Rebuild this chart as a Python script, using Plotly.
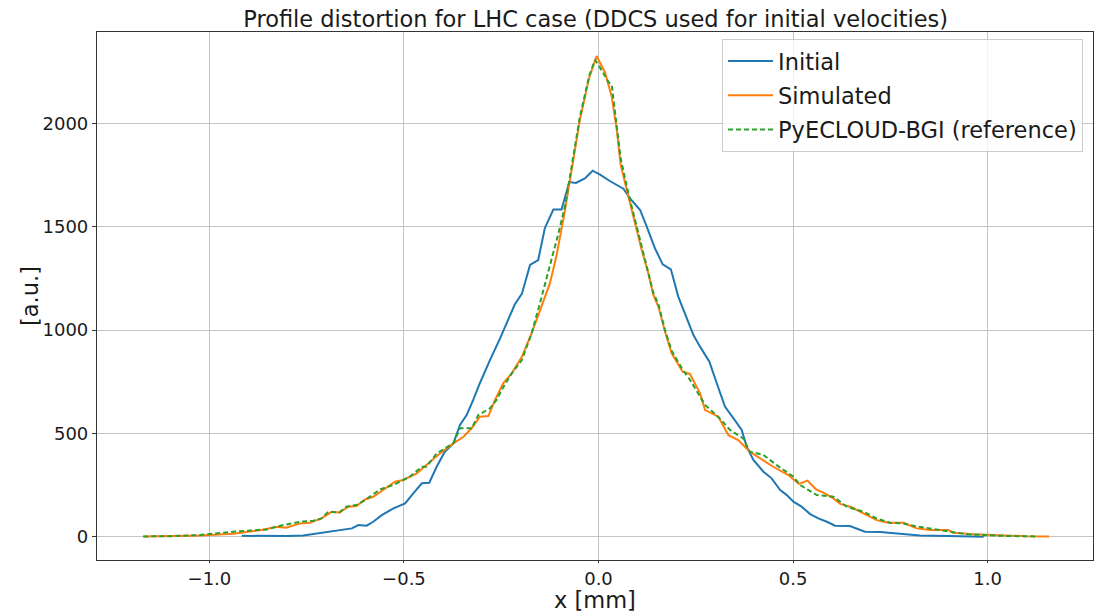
import plotly.graph_objects as go

# ---- data ----
initial_x = [-0.917, -0.85, -0.80, -0.759, -0.716, -0.68, -0.656, -0.634, -0.617, -0.596, -0.579, -0.557,
             -0.527, -0.497, -0.476, -0.454, -0.435, -0.416, -0.395, -0.373, -0.356, -0.339, -0.322,
             -0.305, -0.279, -0.253, -0.215, -0.197, -0.176, -0.155, -0.138, -0.116, -0.095, -0.075,
             -0.058, -0.035, -0.015, 0.004, 0.030, 0.064, 0.081, 0.107, 0.124, 0.145, 0.165, 0.186,
             0.205, 0.244, 0.261, 0.285, 0.304, 0.325, 0.347, 0.368, 0.381, 0.398, 0.424, 0.445, 0.467,
             0.484, 0.501, 0.522, 0.544, 0.565, 0.587, 0.608, 0.646, 0.685, 0.724, 0.775, 0.826, 0.90,
             0.95, 0.99]
initial_y = [5, 3, 4, 6, 18, 25, 33, 41, 57, 54, 73, 105,
             138, 162, 210, 259, 262, 339, 412, 452, 541, 589, 662,
             743, 855, 960, 1125, 1175, 1315, 1339, 1493, 1583, 1583, 1716,
             1712, 1734, 1771, 1752, 1720, 1684, 1637, 1581, 1500, 1396, 1318, 1294,
             1162, 976, 920, 847, 743, 630, 573, 517, 436, 372, 315, 283, 226,
             202, 170, 146, 110, 89, 73, 54, 52, 25, 23, 14, 7, 4,
             2, 1]

sim_x = [-1.17, -1.10, -1.025, -0.939, -0.866, -0.827, -0.803, -0.767, -0.742, -0.712, -0.686, -0.666,
         -0.643, -0.622, -0.600, -0.579, -0.549, -0.523, -0.502, -0.467, -0.437, -0.407, -0.373,
         -0.347, -0.326, -0.305, -0.283, -0.266, -0.245, -0.223, -0.197, -0.172, -0.150, -0.125,
         -0.108, -0.088, -0.069, -0.048, -0.024, -0.005, 0.017, 0.034, 0.047, 0.057, 0.077, 0.094,
         0.111, 0.128, 0.141, 0.154, 0.171, 0.188, 0.216, 0.235, 0.261, 0.274, 0.308, 0.334, 0.359,
         0.389, 0.415, 0.449, 0.488, 0.515, 0.537, 0.559, 0.578, 0.604, 0.621, 0.651, 0.681, 0.715,
         0.745, 0.784, 0.818, 0.852, 0.899, 0.912, 0.964, 1.0, 1.05, 1.10, 1.158]
sim_y = [2, 3, 7, 15, 33, 49, 44, 65, 68, 89, 121, 118,
         146, 149, 181, 194, 235, 267, 275, 307, 356, 404, 452,
         484, 525, 581, 584, 662, 743, 791, 871, 984, 1097, 1226,
         1360, 1560, 1775, 2016, 2220, 2326, 2245, 2129, 1968, 1799, 1645, 1517,
         1388, 1275, 1170, 1113, 992, 888, 799, 788, 694, 613, 581, 492, 468,
         412, 380, 339, 299, 256, 272, 230, 214, 186, 159, 143, 114, 81,
         68, 68, 41, 33, 33, 20, 12, 9, 5, 3, 2]

ref_x = [-1.17, -1.10, -1.025, -0.939, -0.853, -0.81, -0.767, -0.733, -0.712, -0.695, -0.666, -0.648,
         -0.622, -0.600, -0.561, -0.527, -0.485, -0.454, -0.442, -0.416, -0.373, -0.356, -0.326,
         -0.309, -0.279, -0.262, -0.249, -0.223, -0.197, -0.172, -0.146, -0.125, -0.103, -0.086,
         -0.069, -0.048, -0.024, -0.009, 0.0, 0.025, 0.034, 0.047, 0.057, 0.077, 0.094, 0.111,
         0.128, 0.141, 0.154, 0.171, 0.188, 0.216, 0.235, 0.257, 0.274, 0.312, 0.338, 0.372, 0.389,
         0.424, 0.458, 0.501, 0.518, 0.561, 0.604, 0.638, 0.681, 0.715, 0.749, 0.784, 0.818, 0.852,
         0.899, 0.95, 1.0, 1.05, 1.13]
ref_y = [2, 3, 9, 25, 36, 57, 73, 78, 89, 121, 118, 146,
         154, 178, 230, 251, 291, 339, 339, 404, 452, 525, 525,
         589, 622, 662, 710, 791, 855, 984, 1162, 1307, 1468, 1600,
         1790, 2030, 2230, 2307, 2282, 2202, 2186, 1990, 1830, 1660, 1530, 1400,
         1285, 1180, 1125, 1000, 900, 810, 760, 690, 638, 573, 517, 476, 412,
         396, 347, 291, 251, 202, 194, 146, 121, 89, 68, 65, 50, 40,
         25, 12, 8, 4, 2]

x_ticks = [-1.0, -0.5, 0.0, 0.5, 1.0]
x_tick_labels = ["\u22121.0", "\u22120.5", "0.0", "0.5", "1.0"]
y_ticks = [0, 500, 1000, 1500, 2000]
y_tick_labels = ["0", "500", "1000", "1500", "2000"]

FONT = "DejaVu Sans"

fig = go.Figure()
fig.add_trace(go.Scatter(x=initial_x, y=initial_y, mode="lines", name="Initial",
                         line=dict(color="#1f77b4", width=2), legendgroup="a"))
fig.add_trace(go.Scatter(x=sim_x, y=sim_y, mode="lines", name="Simulated",
                         line=dict(color="#ff7f0e", width=2), legendgroup="b"))
fig.add_trace(go.Scatter(x=ref_x, y=ref_y, mode="lines", name="PyECLOUD-BGI (reference)",
                         line=dict(color="#2ca02c", width=2, dash="5px,3px"), legendgroup="c"))

axis_common = dict(
    showgrid=True, gridcolor="#c4c4c4", gridwidth=1,
    showline=True, linecolor="#333333", linewidth=1.2, mirror=True,
    ticks="outside", tickcolor="#333333", tickwidth=1,
    zeroline=False,
    tickfont=dict(family=FONT, size=18, color="#1a1a1a"),
)

fig.update_layout(
    width=1094, height=612,
    margin=dict(l=97, r=1, t=32, b=52),
    paper_bgcolor="white", plot_bgcolor="white",
    font=dict(family=FONT, color="#1a1a1a"),
    title=dict(text="Profile distortion for LHC case (DDCS used for initial velocities)",
               x=0.5445, xanchor="center", y=1 - 19 / 612, yanchor="middle", yref="container",
               font=dict(family=FONT, size=22.5, color="#1a1a1a")),
    xaxis=dict(range=[-1.289, 1.271], tickvals=x_ticks, ticktext=x_tick_labels,
               ticklen=2, **axis_common),
    yaxis=dict(range=[-112, 2442], tickvals=y_ticks, ticktext=y_tick_labels,
               ticklen=4, **axis_common),
    legend=dict(x=0.99, xanchor="right", y=0.987, yanchor="top",
                bgcolor="rgba(255,255,255,0.8)", bordercolor="#cccccc", borderwidth=1,
                font=dict(family=FONT, size=22.5, color="#1a1a1a"),
                tracegroupgap=2, itemwidth=45),
    showlegend=True,
    annotations=[
        dict(text="x [mm]", xref="paper", yref="paper", x=0.5, y=-(600 - 560) / 528,
             xanchor="center", yanchor="middle", showarrow=False,
             font=dict(family=FONT, size=22.5, color="#1a1a1a")),
        dict(text="[a.u.]", xref="paper", yref="paper", x=-(97 - 30) / 996, y=(560 - 296) / 528,
             xanchor="center", yanchor="middle", showarrow=False, textangle=-90,
             font=dict(family=FONT, size=22.5, color="#1a1a1a")),
    ],
)

fig.write_html("out.html")
